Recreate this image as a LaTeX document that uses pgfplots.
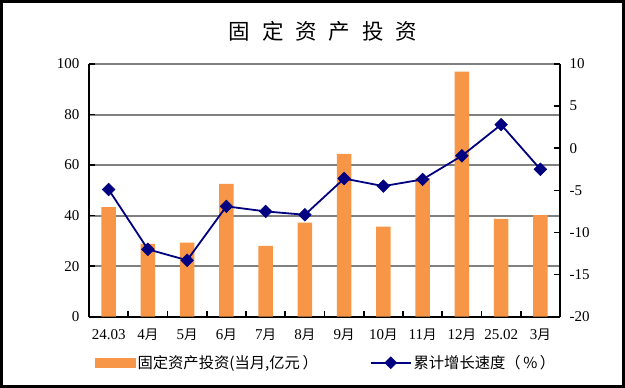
\documentclass[border=0pt]{standalone}
\usepackage{fontspec}
\setmainfont{Liberation Serif}
\newfontfamily\cjk{Noto Sans CJK SC}
\usepackage{pgfplots}
\pgfplotsset{compat=1.18}
\definecolor{barorange}{HTML}{F79646}
\definecolor{linenavy}{HTML}{000080}
\definecolor{gridgray}{HTML}{808080}
\newcommand\yue{{\cjk\fontsize{13.5bp}{16bp}\selectfont 月}}
\begin{document}
\begin{tikzpicture}
\useasboundingbox (0,0) rectangle (625bp,388bp);
\draw[line width=3bp, black] (1.5bp,1.5bp) rectangle (623bp,386.5bp);
\node[font=\cjk\fontsize{21.5bp}{25bp}\selectfont] at (323bp,356.3bp)
  {固\hspace{12bp}定\hspace{12bp}资\hspace{12bp}产\hspace{12bp}投\hspace{12bp}资};
\begin{axis}[
  at={(89bp,71.3bp)}, anchor=south west,
  scale only axis, width=471bp, height=252.7bp,
  xmin=-0.5, xmax=11.5, ymin=0, ymax=100,
  axis x line*=bottom, axis y line*=left,
  axis line style={line width=2bp, black},
  x tick label as interval,
  xtick={-0.5,0.5,...,11.5},
  xticklabels={24.03, 4\yue, 5\yue, 6\yue, 7\yue, 8\yue, 9\yue, 10\yue, 11\yue, 12\yue, 25.02, 3\yue},
  ytick={0,20,...,100},
  tick align=inside,
  major tick length=6bp,
  tick style={line width=1.6bp, black},
  ymajorgrids, grid style={line width=2bp, gridgray},
  /pgf/number format/assume math mode=true,
  ticklabel style={font=\fontsize{15bp}{18bp}\selectfont},
  yticklabel style={xshift=-6bp},
  xticklabel style={yshift=-9bp},
]
\addplot[ybar, bar width=14.3bp, fill=barorange, draw=none] coordinates {
 (0,43.4) (1,28.8) (2,29.3) (3,52.6) (4,28.0) (5,37.2)
 (6,64.4) (7,35.6) (8,54.8) (9,97.0) (10,38.7) (11,40.2)};
\end{axis}
\begin{axis}[
  at={(89bp,71.3bp)}, anchor=south west,
  scale only axis, width=471bp, height=252.7bp,
  xmin=-0.5, xmax=11.5, ymin=-20, ymax=10,
  axis x line=none, axis y line*=right,
  axis line style={line width=2bp, black},
  ytick={-20,-15,...,10},
  tick align=inside,
  major tick length=6bp,
  tick style={line width=1.6bp, black},
  /pgf/number format/assume math mode=true,
  ticklabel style={font=\fontsize{15bp}{18bp}\selectfont},
  yticklabel style={xshift=6bp},
  legend columns=2,
  legend style={at={(axis description cs:0.0127,-0.182)}, anchor=west,
    draw=none, fill=none, inner sep=0pt,
    font=\cjk\fontsize{15.3bp}{18bp}\selectfont,
    /tikz/every even column/.append style={column sep=50bp}},
]
\addlegendimage{legend image code/.code={\fill[barorange] (0bp,-4.2bp) rectangle (40bp,4.2bp);}}
\addlegendentry{固定资产投资(当月,亿元\,）}
\addlegendimage{legend image code/.code={\draw[linenavy, line width=1.8bp] (0bp,0bp) -- (40bp,0bp);
  \node[fill=linenavy, inner sep=0pt, minimum size=9bp, rotate=45] at (20bp,0bp) {};}}
\addlegendentry{累计增长速度（\,\%\,）}
\addplot[forget plot, linenavy, line width=1.8bp, mark=square*, mark size=4.5bp,
  mark options={rotate=45, fill=linenavy, line width=0.5bp}]
 coordinates {
 (0,-4.9) (1,-12.0) (2,-13.3) (3,-6.9) (4,-7.5) (5,-7.9)
 (6,-3.6) (7,-4.5) (8,-3.7) (9,-0.9) (10,2.8) (11,-2.5)};
\end{axis}
\end{tikzpicture}
\end{document}
